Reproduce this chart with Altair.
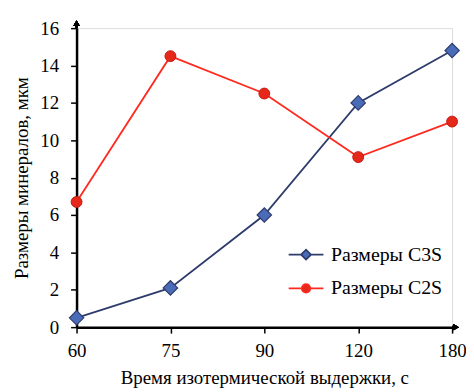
import altair as alt
import pandas as pd

times = ["60", "75", "90", "120", "180"]
c3s = [0.5, 2.1, 6.0, 12.0, 14.8]
c2s = [6.7, 14.5, 12.5, 9.1, 11.0]
series = ["Размеры C3S", "Размеры C2S"]
y_ticks = [0, 2, 4, 6, 8, 10, 12, 14, 16]

rows = []
for t, v in zip(times, c3s):
    rows.append({"t": t, "v": v, "s": series[0]})
for t, v in zip(times, c2s):
    rows.append({"t": t, "v": v, "s": series[1]})
df = pd.DataFrame(rows)

FONT = "'Liberation Serif', 'Times New Roman', serif"
W, H = 378, 301
navy = "#2e3c6c"
red = "#ff2a1f"
blue_fill = "#4a6bb8"
red_fill = "#e5281a"

diamond_leg = "M-3.5,0H-1L0,-1L1,0L0,1L-1,0Z M1,0H3.5"
circle_leg = "M-3.5,0H-0.85A0.85,0.85 0 1,1 0.85,0A0.85,0.85 0 1,1 -0.85,0Z M0.85,0H3.5"

x_enc = alt.X(
    "t:O", sort=times,
    scale=alt.Scale(type="point", padding=0),
    axis=alt.Axis(
        title="Время изотермической выдержки, с", labelAngle=0,
        labelFont=FONT, labelFontSize=19, labelColor="black", labelPadding=9,
        titleFont=FONT, titleFontSize=19, titleFontWeight="normal", titleColor="black",
        titlePadding=8, domainColor="black", domainWidth=2.5, tickColor="black",
        tickSize=6, tickWidth=1.5, grid=False,
    ),
)
y_enc = alt.Y(
    "v:Q",
    scale=alt.Scale(domain=[0, 16], nice=False),
    axis=alt.Axis(
        title="Размеры минералов, мкм", values=y_ticks,
        labelFont=FONT, labelFontSize=19, labelColor="black", labelPadding=12,
        titleFont=FONT, titleFontSize=19, titleFontWeight="normal", titleColor="black",
        titlePadding=8, domainColor="black", domainWidth=2.5, tickColor="black",
        tickSize=6, tickWidth=1.5, grid=False,
    ),
)

leg = alt.Legend(
    title=None, orient="none", legendX=221, legendY=218,
    labelFont=FONT, labelFontSize=20, labelColor="black",
    labelOffset=15, rowPadding=14, symbolSize=100, symbolStrokeWidth=1.8,
    symbolOpacity=1,
)

base = alt.Chart(df)

lines = base.mark_line(strokeWidth=1.8).encode(
    x=x_enc, y=y_enc,
    stroke=alt.Stroke("s:N", sort=series,
                      scale=alt.Scale(domain=series, range=[navy, red]), legend=leg),
)

legend_layer = base.transform_filter("false").mark_point(filled=False, opacity=1).encode(
    x=x_enc, y=y_enc,
    stroke=alt.Stroke("s:N", sort=series,
                      scale=alt.Scale(domain=series, range=[navy, red]), legend=leg),
    fill=alt.Fill("s:N", sort=series,
                  scale=alt.Scale(domain=series, range=[blue_fill, red_fill]), legend=leg),
    shape=alt.Shape("s:N", sort=series,
                    scale=alt.Scale(domain=series, range=[diamond_leg, circle_leg]), legend=leg),
)

pts_c3s = base.transform_filter(alt.datum.s == series[0]).mark_point(
    shape="diamond", filled=True, fill=blue_fill, stroke=navy, strokeWidth=1.2,
    size=210, opacity=1,
).encode(x=x_enc, y=y_enc)

pts_c2s = base.transform_filter(alt.datum.s == series[1]).mark_point(
    shape="circle", filled=True, fill=red_fill, stroke="#c41a10", strokeWidth=1,
    size=120, opacity=1,
).encode(x=x_enc, y=y_enc)

y_ext = base.mark_rule(color="black", strokeWidth=2.5).encode(
    x=alt.value(0), y=alt.value(0), y2=alt.value(-4))
y_arrow = base.mark_point(shape="triangle-up", filled=True, color="black", size=40, opacity=1).encode(
    x=alt.value(0), y=alt.value(-5))
x_ext = base.mark_rule(color="black", strokeWidth=2.5).encode(
    x=alt.value(W), x2=alt.value(W + 3), y=alt.value(H))
x_arrow = base.mark_point(shape="triangle-right", filled=True, color="black", size=40, opacity=1).encode(
    x=alt.value(W + 4), y=alt.value(H))

chart = alt.layer(lines, legend_layer, pts_c3s, pts_c2s, y_ext, y_arrow, x_ext, x_arrow).properties(
    width=W, height=H,
    autosize=alt.AutoSizeParams(type="none"),
    padding={"left": 69, "top": 19, "right": 14, "bottom": 62},
    background="white",
).configure_view(stroke=None).configure(font=FONT).configure_axis(
    labelFont=FONT, titleFont=FONT
).configure_legend(labelFont=FONT)

chart.save("out.html", embed_options={"renderer": "svg", "actions": False})
